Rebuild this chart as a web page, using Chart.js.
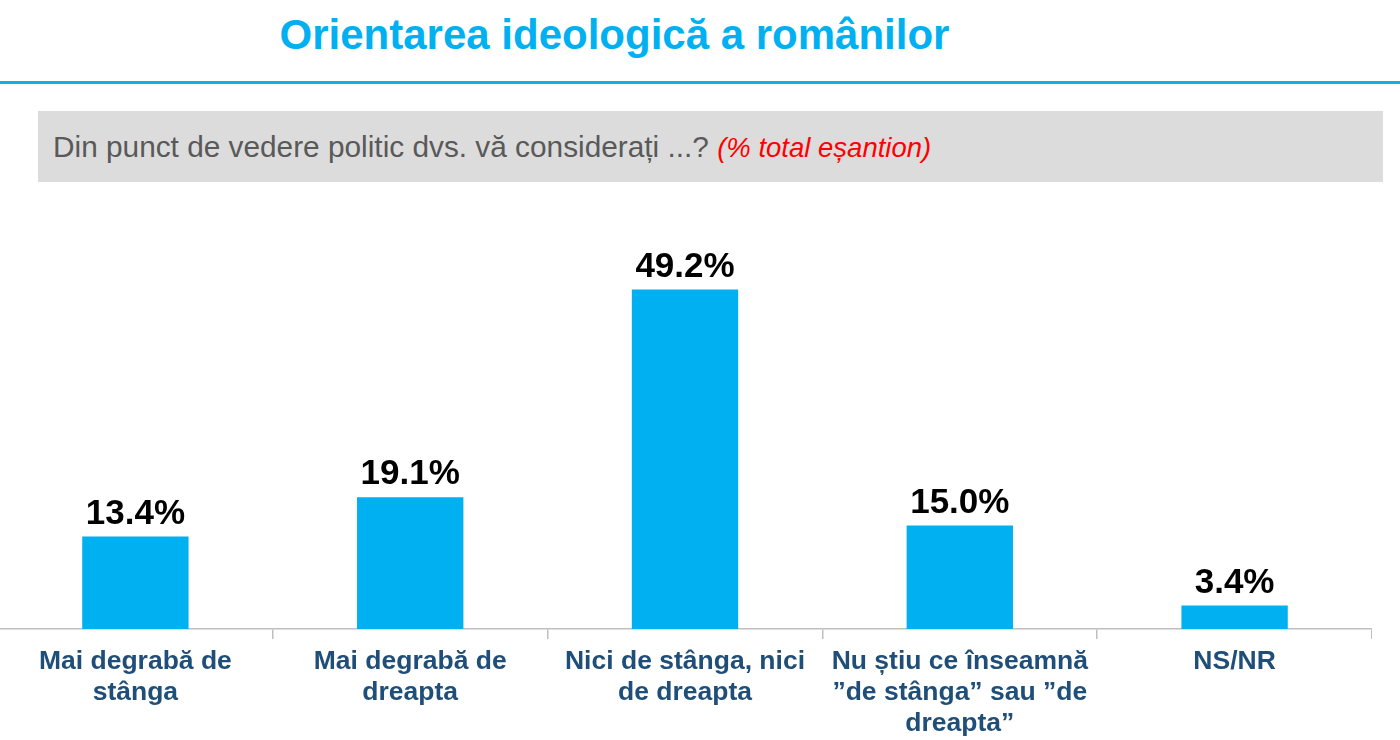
<!DOCTYPE html>
<html lang="ro">
<head>
<meta charset="utf-8">
<title>Orientarea ideologică a românilor</title>
<script src="https://cdn.jsdelivr.net/npm/chart.js@4.4.1/dist/chart.umd.min.js"></script>
<style>
    html, body {
        margin: 0;
        padding: 0;
        background: #ffffff;
    }
    body {
        position: relative;
        width: 1400px;
        height: 740px;
        overflow: hidden;
        font-family: "Liberation Sans", Arial, sans-serif;
    }
    #title {
        position: absolute;
        left: 0;
        top: 14px;
        width: 1229px;
        text-align: center;
        font-size: 42px;
        line-height: 42px;
        font-weight: bold;
        color: #00b0f0;
        white-space: nowrap;
    }
    #rule {
        position: absolute;
        left: 0;
        top: 81px;
        width: 1400px;
        height: 3px;
        background: #14ade6;
    }
    #question {
        position: absolute;
        left: 38px;
        top: 111px;
        width: 1345px;
        height: 71px;
        background: #dcdcdc;
        box-sizing: border-box;
        padding-left: 15px;
        font-size: 29.8px;
        line-height: 71px;
        color: #595959;
        white-space: nowrap;
    }
    #question .note {
        font-style: italic;
        font-size: 27.5px;
        color: #ff0000;
    }
    #chart-box {
        position: absolute;
        left: -2px;
        top: 200px;
        width: 1374px;
        height: 540px;
    }
</style>
</head>
<body>
<div id="title">Orientarea ideologică a românilor</div>
<div id="rule"></div>
<div id="question">Din punct de vedere politic dvs. vă considerați ...? <span class="note">(% total eșantion)</span></div>
<div id="chart-box"><canvas id="ideologyChart"></canvas></div>

<script>
// Answer categories (tick labels, split into lines as on the slide)
const categories = [
    ['Mai degrabă de', 'stânga'],
    ['Mai degrabă de', 'dreapta'],
    ['Nici de stânga, nici', 'de dreapta'],
    ['Nu știu ce înseamnă', '”de stânga” sau ”de', 'dreapta”'],
    'NS/NR'
];

// Share of total sample, %
const shares = [13.4, 19.1, 49.2, 15.0, 3.4];

// Value labels written above each bar
const barLabels = {
    id: 'barLabels',
    afterDatasetsDraw(chart) {
        const ctx = chart.ctx;
        const meta = chart.getDatasetMeta(0);
        ctx.save();
        ctx.font = 'bold 35px "Liberation Sans", Arial, sans-serif';
        ctx.fillStyle = '#000000';
        ctx.textAlign = 'center';
        ctx.textBaseline = 'alphabetic';
        meta.data.forEach((bar, i) => {
            ctx.fillText(shares[i].toFixed(1) + '%', bar.x, bar.y - 13);
        });
        ctx.restore();
    }
};

function drawChart() {
    const ctx = document.getElementById('ideologyChart').getContext('2d');
    const myChart = new Chart(ctx, {
        type: 'bar',
        data: {
            labels: categories,
            datasets: [{
                label: '% total eșantion',
                data: shares,
                backgroundColor: '#00b0f0',
                borderWidth: 0,
                barPercentage: 0.387,
                categoryPercentage: 1
            }]
        },
        options: {
            responsive: true,
            maintainAspectRatio: false,
            animation: false,
            layout: {
                padding: { top: 15, left: 0, right: 0, bottom: 0 }
            },
            plugins: {
                legend: { display: false },
                tooltip: { enabled: false }
            },
            scales: {
                y: {
                    display: false,
                    min: 0,
                    max: 60
                },
                x: {
                    grid: {
                        display: true,
                        offset: true,
                        drawOnChartArea: false,
                        drawTicks: true,
                        tickLength: 10,
                        color: '#bfbfbf',
                        lineWidth: 1.5
                    },
                    border: {
                        display: true,
                        color: '#bfbfbf',
                        width: 1.5
                    },
                    ticks: {
                        autoSkip: false,
                        maxRotation: 0,
                        padding: 7,
                        color: '#1f4e79',
                        font: {
                            family: '"Liberation Sans", Arial, sans-serif',
                            size: 26.5,
                            weight: 'bold',
                            lineHeight: 1.17
                        }
                    },
                    afterFit(scale) {
                        scale.height = 111;
                    }
                }
            }
        },
        plugins: [barLabels]
    });
}

window.onload = drawChart;
</script>
</body>
</html>
